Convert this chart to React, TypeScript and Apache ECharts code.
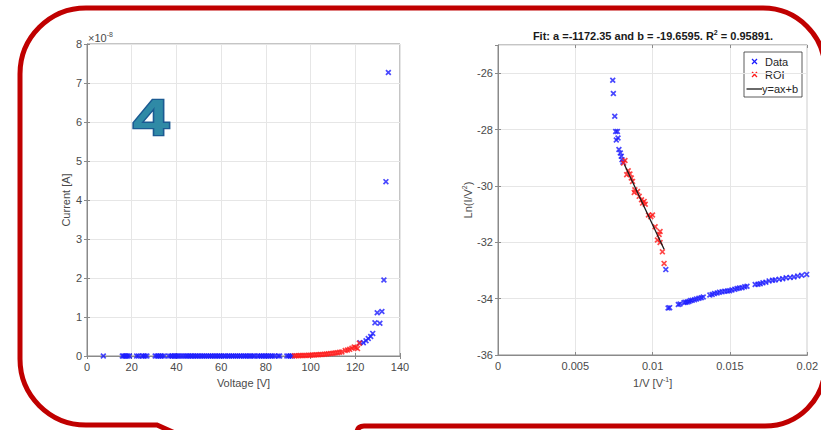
import React, { useEffect, useRef } from "react";
import * as echarts from "echarts";

// ---------- Left plot: I-V data (current in units of 1e-8 A) ----------
const ivDataLow: number[][] = [
  [7.3, 0.001], [15.8, 0.001], [16.4, 0.001], [17.0, 0.001], [17.6, 0.001], [18.3, 0.001], [19.0, 0.001],
  [22.2, 0.001], [23.0, 0.001], [24.6, 0.001], [25.3, 0.001], [26.0, 0.001], [26.8, 0.001],
  [30.5, 0.001], [31.3, 0.001], [32.0, 0.001], [32.8, 0.001], [33.6, 0.001], [34.5, 0.001],
  [36.6, 0.001], [37.5, 0.001], [38.2, 0.001], [39.0, 0.001], [39.6, 0.001], [40.3, 0.001], [41.0, 0.001],
  [42.0, 0.001], [43.0, 0.001], [44.0, 0.001], [44.8, 0.001], [45.5, 0.001], [46.3, 0.001], [47.0, 0.001],
  [47.8, 0.001], [48.6, 0.001], [49.3, 0.001], [50.1, 0.001], [51.0, 0.001], [51.8, 0.001], [52.6, 0.001],
  [53.5, 0.001], [54.4, 0.001], [55.2, 0.001], [56.0, 0.001], [56.9, 0.001], [57.7, 0.001], [58.5, 0.001],
  [59.3, 0.001], [60.2, 0.001], [61.2, 0.001], [62.0, 0.001], [63.0, 0.001], [63.8, 0.001], [64.7, 0.001],
  [65.5, 0.001], [66.4, 0.001], [67.3, 0.001], [68.2, 0.001], [69.0, 0.001], [70.0, 0.001], [70.8, 0.001],
  [71.6, 0.001], [72.5, 0.001], [73.3, 0.001], [74.2, 0.001], [75.0, 0.001], [76.3, 0.001], [77.2, 0.001],
  [78.0, 0.001], [78.8, 0.001], [79.6, 0.001], [80.4, 0.001], [81.3, 0.001], [82.2, 0.001], [83.0, 0.001],
  [84.0, 0.001], [85.5, 0.001], [86.2, 0.001], [89.4, 0.001], [90.2, 0.001], [91.0, 0.001], [91.8, 0.001],
];
const ivDataHigh: number[][] = [
  [122.1, 0.34], [123.6, 0.34], [124.8, 0.39], [125.8, 0.45], [126.9, 0.5], [127.8, 0.58],
  [128.8, 0.85], [129.8, 1.11], [131.0, 0.84], [131.9, 1.14], [132.8, 1.95], [133.7, 4.47], [134.8, 7.27],
];
const ivROI: number[][] = [
  [92.8, 0.005], [93.6, 0.006], [94.5, 0.008], [95.3, 0.01], [96.2, 0.012], [97.1, 0.013], [98.0, 0.015],
  [99.0, 0.018], [99.8, 0.02], [100.7, 0.023], [101.6, 0.026], [102.5, 0.03], [103.4, 0.033], [104.3, 0.037],
  [105.2, 0.04], [106.2, 0.045], [107.1, 0.05], [108.0, 0.056], [109.0, 0.062], [110.0, 0.07], [111.0, 0.078],
  [112.0, 0.086], [113.0, 0.095], [114.0, 0.105], [115.5, 0.14], [116.5, 0.155], [117.5, 0.17], [118.5, 0.2],
  [119.5, 0.23], [120.3, 0.22], [121.0, 0.19], [121.8, 0.33],
];

// ---------- Right plot: Fowler-Nordheim (1/V, ln(I/V^2)) ----------
const fnDataUpper: number[][] = [
  [0.00742, -26.25], [0.00746, -26.72], [0.00755, -27.53], [0.00761, -28.07], [0.00772, -28.07],
  [0.00765, -28.37], [0.00776, -28.3], [0.00782, -28.71], [0.00791, -28.83], [0.00797, -28.95],
  [0.00802, -29.07], [0.00808, -29.16], [0.01085, -32.97],
];
const fnDataLower: number[][] = [
  [0.011, -34.33], [0.0111, -34.32], [0.01166, -34.21], [0.01177, -34.19], [0.01203, -34.14], [0.01213, -34.13],
  [0.01224, -34.12], [0.01235, -34.1], [0.01245, -34.07], [0.01256, -34.06], [0.01271, -34.04], [0.01284, -34.01],
  [0.01299, -33.99], [0.01314, -33.97], [0.01327, -33.94], [0.0137, -33.87], [0.01385, -33.85], [0.014, -33.82],
  [0.01417, -33.8], [0.01432, -33.77], [0.01449, -33.76], [0.01466, -33.74], [0.01483, -33.73], [0.01498, -33.72],
  [0.01513, -33.69], [0.01531, -33.67], [0.01546, -33.64], [0.01561, -33.62], [0.01578, -33.61], [0.01595, -33.58],
  [0.0161, -33.56], [0.01663, -33.5], [0.01681, -33.49], [0.01696, -33.47], [0.01713, -33.44], [0.01732, -33.42],
  [0.01753, -33.37], [0.01775, -33.35], [0.01792, -33.34], [0.01818, -33.31], [0.01841, -33.29], [0.01863, -33.26],
  [0.01889, -33.25], [0.01914, -33.23], [0.01938, -33.2], [0.01964, -33.17], [0.01996, -33.14],
];
const fnROI: number[][] = [
  [0.00812, -29.19], [0.00821, -29.1], [0.00832, -29.6], [0.00842, -29.46], [0.00853, -29.58], [0.00862, -29.72],
  [0.0087, -29.84], [0.00881, -30.23], [0.00885, -30.14], [0.00902, -30.2], [0.00913, -30.37], [0.00928, -30.49],
  [0.00935, -30.61], [0.00945, -30.55], [0.00952, -30.65], [0.00973, -31.03], [0.00988, -31.09], [0.00999, -31.03],
  [0.01016, -31.45], [0.01031, -31.92], [0.01042, -31.72], [0.01048, -31.62], [0.01048, -32.01], [0.01063, -32.34],
  [0.01074, -32.75],
];
const fitA = -1172.35;
const fitB = -19.6595;
const fitXRange = [0.00817, 0.01074];

const leftXTicks = { min: 0, max: 140, interval: 20 };
const leftYTicks = { min: 0, max: 8, interval: 1 };
const rightXTicks = { min: 0, max: 0.02, interval: 0.005 };
const rightYTicks = { min: -36, max: -25, interval: 2 };

const FONT = '"Liberation Sans", Arial, sans-serif';
const BLUE = "#1a1aff";
const RED = "#ff1a1a";
const XSYM = "path://M0,2L2,0L10,8L8,10ZM8,0L10,2L2,10L0,8Z";
const FRAME_D =
  "M 186 438 L 157 425 L 86 425 A 66 66 0 0 1 20 359 L 20 74 A 66 66 0 0 1 86 8 L 763 8 A 62 62 0 0 1 825 70 L 825 366 A 60 60 0 0 1 765 426 L 364 426 Q 357 426 357 433 L 357 440";

let registered = false;

export default function App() {
  const ref = useRef<HTMLDivElement>(null);
  useEffect(() => {
    if (!ref.current) return;
    if (!registered) {
      echarts.graphic.registerShape("frame", echarts.graphic.extendPath(FRAME_D, {}) as any);
      registered = true;
    }
    const chart = echarts.init(ref.current, undefined, { renderer: "svg" });
    const labelColor = "#4a4a4a";
    const axisCommon = (extra: any) => ({
      type: "value",
      axisLine: { show: true, onZero: false, lineStyle: { color: "#8a8a8a", width: 1 } },
      axisTick: { show: true, inside: true, length: 3, lineStyle: { color: "#8a8a8a" } },
      splitLine: { show: true, lineStyle: { color: "#e6e6e6", width: 1 } },
      axisLabel: { color: labelColor, fontSize: 11, fontFamily: FONT },
      nameLocation: "middle",
      nameTextStyle: {
        color: labelColor,
        fontSize: 11,
        fontFamily: FONT,
        rich: {
          n: { fontSize: 11, fontFamily: FONT, color: labelColor, lineHeight: 14 },
          s: { fontSize: 7, fontFamily: FONT, color: labelColor, verticalAlign: "top", lineHeight: 14 },
        },
      },
      ...extra,
    });
    const mirrorAxis = (extra: any) => ({
      type: "value",
      axisLine: { show: false },
      axisTick: { show: true, inside: true, length: 3, lineStyle: { color: "#8a8a8a" } },
      splitLine: { show: false },
      axisLabel: { show: false },
      ...extra,
    });
    const fitLine = fitXRange.map((x) => [x, fitA * x + fitB]);
    const scatterBase = { type: "scatter", symbol: XSYM, symbolSize: 6, z: 3 };

    chart.setOption({
      animation: false,
      backgroundColor: "#ffffff",
      grid: [
        { left: 87, top: 44, width: 313, height: 312, show: true, borderColor: "#8a8a8a", borderWidth: 1, backgroundColor: "#fff" },
        { left: 498, top: 45, width: 311, height: 310, show: true, borderColor: "#8a8a8a", borderWidth: 1, backgroundColor: "#fff" },
      ],
      xAxis: [
        axisCommon({
          gridIndex: 0, ...leftXTicks,
          axisLabel: { color: labelColor, fontSize: 11, fontFamily: FONT, margin: 5 },
          name: "Voltage [V]", nameGap: 21,
        }),
        axisCommon({
          gridIndex: 1, ...rightXTicks,
          axisLabel: { color: labelColor, fontSize: 11, fontFamily: FONT, margin: 5 },
          name: "{n|1/V [V}{s|-1}{n|]}", nameGap: 21,
        }),
        mirrorAxis({ gridIndex: 0, position: "top", ...leftXTicks }),
        mirrorAxis({ gridIndex: 1, position: "top", ...rightXTicks }),
      ],
      yAxis: [
        axisCommon({
          gridIndex: 0, ...leftYTicks,
          axisLabel: { color: labelColor, fontSize: 11, fontFamily: FONT, margin: 5 },
          name: "Current [A]", nameGap: 13,
        }),
        axisCommon({
          gridIndex: 1, ...rightYTicks,
          axisLabel: { color: labelColor, fontSize: 11, fontFamily: FONT, margin: 5, showMaxLabel: false },
          name: "{n|Ln(I/V}{s|2}{n|)}", nameGap: 21,
        }),
        mirrorAxis({ gridIndex: 0, position: "right", ...leftYTicks }),
        mirrorAxis({ gridIndex: 1, position: "right", ...rightYTicks }),
      ],
      series: [
        { ...scatterBase, name: "Data", xAxisIndex: 0, yAxisIndex: 0, data: [...ivDataLow, ...ivDataHigh], itemStyle: { color: BLUE } },
        { ...scatterBase, name: "ROI", xAxisIndex: 0, yAxisIndex: 0, data: ivROI, itemStyle: { color: RED } },
        { ...scatterBase, name: "Data", xAxisIndex: 1, yAxisIndex: 1, data: [...fnDataUpper, ...fnDataLower], itemStyle: { color: BLUE } },
        { ...scatterBase, name: "ROI", xAxisIndex: 1, yAxisIndex: 1, data: fnROI, itemStyle: { color: RED } },
        {
          type: "line", name: "y=ax+b", xAxisIndex: 1, yAxisIndex: 1, data: fitLine, symbol: "none", z: 4,
          lineStyle: { color: "#1a1a1a", width: 1.3 },
        },
      ],
      graphic: [
        { type: "frame", x: 0, y: 0, z: 0, silent: true, style: { fill: "none", stroke: "#c00000", lineWidth: 5 } },
        {
          type: "text", x: 88, y: 38, z: 10,
          style: {
            text: "{n|×10}{s|-8}", x: 0, y: 0, verticalAlign: "middle", align: "left",
            rich: {
              n: { fontSize: 11, fontFamily: FONT, fill: labelColor, lineHeight: 14 } as any,
              s: { fontSize: 7, fontFamily: FONT, fill: labelColor, verticalAlign: "top", lineHeight: 14 } as any,
            },
          },
        },
        {
          type: "text", x: 151, y: 118, scaleX: 1.3, z: 10,
          style: {
            text: "4", x: 0, y: 0, align: "center", verticalAlign: "middle",
            font: `bold 50px ${FONT}`, fill: "#2f8aa6", stroke: "#1b5a92", lineWidth: 2.5,
            shadowBlur: 3, shadowColor: "rgba(0,0,0,0.35)", shadowOffsetX: 2, shadowOffsetY: 2,
          },
        },
        {
          type: "text", x: 653, y: 36, z: 10,
          style: {
            text: "{b|Fit: a =-1172.35 and b = -19.6595. R}{s|2}{b| = 0.95891.}",
            x: 0, y: 0, align: "center", verticalAlign: "middle",
            rich: {
              b: { fontSize: 11, fontWeight: "bold", fontFamily: FONT, fill: "#1a1a1a", lineHeight: 14 } as any,
              s: { fontSize: 7, fontWeight: "bold", fontFamily: FONT, fill: "#1a1a1a", verticalAlign: "top", lineHeight: 14 } as any,
            },
          },
        },
        {
          type: "group", x: 744, y: 52, z: 20,
          children: [
            { type: "rect", shape: { x: 0, y: 0, width: 58, height: 45 }, style: { fill: "#fff", stroke: "#333", lineWidth: 0.8 } },
            { type: "line", shape: { x1: 8, y1: 7, x2: 13, y2: 12 }, style: { stroke: BLUE, lineWidth: 1.2 } },
            { type: "line", shape: { x1: 13, y1: 7, x2: 8, y2: 12 }, style: { stroke: BLUE, lineWidth: 1.2 } },
            { type: "text", style: { text: "Data", x: 21, y: 9.5, verticalAlign: "middle", font: `11px ${FONT}`, fill: "#262626" } },
            { type: "line", shape: { x1: 8, y1: 20, x2: 13, y2: 25 }, style: { stroke: RED, lineWidth: 1.2 } },
            { type: "line", shape: { x1: 13, y1: 20, x2: 8, y2: 25 }, style: { stroke: RED, lineWidth: 1.2 } },
            { type: "text", style: { text: "ROI", x: 21, y: 22.5, verticalAlign: "middle", font: `11px ${FONT}`, fill: "#262626" } },
            { type: "line", shape: { x1: 2.5, y1: 37, x2: 18, y2: 37 }, style: { stroke: "#1a1a1a", lineWidth: 1.3 } },
            { type: "text", style: { text: "y=ax+b", x: 18, y: 36.5, verticalAlign: "middle", font: `11px ${FONT}`, fill: "#262626" } },
          ],
        },
      ],
    } as any);
    return () => chart.dispose();
  }, []);
  return <div ref={ref} style={{ position: "fixed", left: 0, top: 0, width: 821, height: 430 }} />;
}
